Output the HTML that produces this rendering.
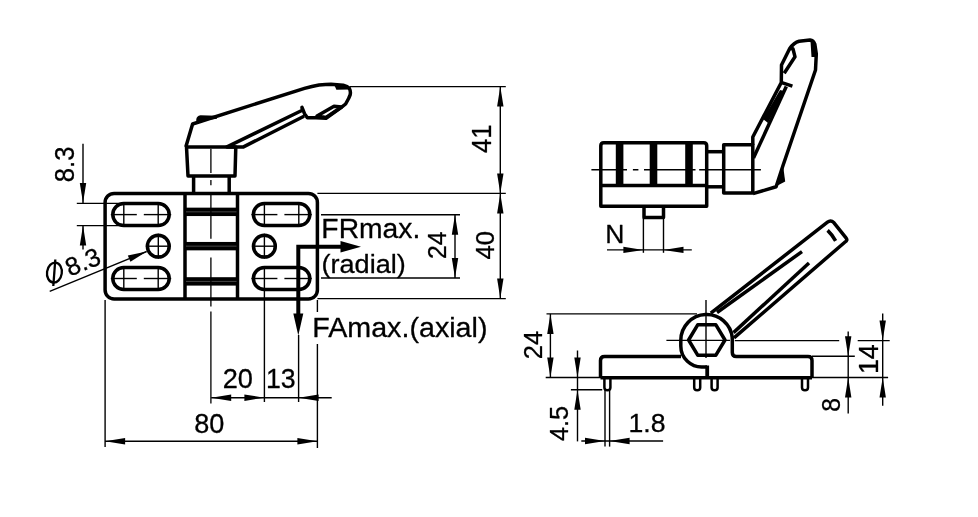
<!DOCTYPE html>
<html><head><meta charset="utf-8"><style>
html,body{margin:0;padding:0;background:#fff;}
svg{display:block;will-change:transform;}
</style></head><body>
<svg width="978" height="517" viewBox="0 0 978 517">
<rect width="978" height="517" fill="#fff"/>
<g fill="none" stroke="#000" stroke-linecap="butt" stroke-linejoin="round">
<path d="M114.1 193.4H308.4A9 9 0 0 1 317.4 202.4V290.0A9 9 0 0 1 308.4 299.0H114.1A9 9 0 0 1 105.1 290.0V202.4A9 9 0 0 1 114.1 193.4Z" stroke-width="3.5" />
<line x1="185" y1="193.4" x2="185" y2="299" stroke-width="3.5" />
<line x1="237.5" y1="193.4" x2="237.5" y2="299" stroke-width="3.5" />
<rect x="184.8" y="207.65" width="52.7" height="8.4" fill="#000" stroke="none"/>
<line x1="186" y1="211.85" x2="236.5" y2="211.85" stroke-width="0.7" stroke="#666"/>
<rect x="184.8" y="241.95000000000002" width="52.7" height="8.4" fill="#000" stroke="none"/>
<line x1="186" y1="246.15" x2="236.5" y2="246.15" stroke-width="0.7" stroke="#666"/>
<rect x="184.8" y="277.2" width="52.7" height="8.4" fill="#000" stroke="none"/>
<line x1="186" y1="281.4" x2="236.5" y2="281.4" stroke-width="0.7" stroke="#666"/>
<path d="M123.8 203.6H158.2A11 11 0 0 1 158.2 225.6H123.8A11 11 0 0 1 123.8 203.6Z" stroke-width="3.5" />
<line x1="123.8" y1="202.6" x2="123.8" y2="226.6" stroke-width="1.4" />
<line x1="158.2" y1="202.6" x2="158.2" y2="226.6" stroke-width="1.4" />
<line x1="110.8" y1="214.6" x2="136.8" y2="214.6" stroke-width="1.4" />
<line x1="143.8" y1="214.6" x2="171.2" y2="214.6" stroke-width="1.4" />
<path d="M264.4 203.6H298.8A11 11 0 0 1 298.8 225.6H264.4A11 11 0 0 1 264.4 203.6Z" stroke-width="3.5" />
<line x1="264.4" y1="202.6" x2="264.4" y2="226.6" stroke-width="1.4" />
<line x1="298.8" y1="202.6" x2="298.8" y2="226.6" stroke-width="1.4" />
<line x1="251.4" y1="214.6" x2="277.4" y2="214.6" stroke-width="1.4" />
<line x1="284.4" y1="214.6" x2="311.8" y2="214.6" stroke-width="1.4" />
<path d="M123.8 267.5H158.2A11 11 0 0 1 158.2 289.5H123.8A11 11 0 0 1 123.8 267.5Z" stroke-width="3.5" />
<line x1="123.8" y1="266.5" x2="123.8" y2="290.5" stroke-width="1.4" />
<line x1="158.2" y1="266.5" x2="158.2" y2="290.5" stroke-width="1.4" />
<line x1="110.8" y1="278.5" x2="136.8" y2="278.5" stroke-width="1.4" />
<line x1="143.8" y1="278.5" x2="171.2" y2="278.5" stroke-width="1.4" />
<path d="M264.4 267.5H298.8A11 11 0 0 1 298.8 289.5H264.4A11 11 0 0 1 264.4 267.5Z" stroke-width="3.5" />
<line x1="264.4" y1="266.5" x2="264.4" y2="290.5" stroke-width="1.4" />
<line x1="298.8" y1="266.5" x2="298.8" y2="290.5" stroke-width="1.4" />
<line x1="251.4" y1="278.5" x2="277.4" y2="278.5" stroke-width="1.4" />
<line x1="284.4" y1="278.5" x2="311.8" y2="278.5" stroke-width="1.4" />
<circle cx="158.3" cy="246.2" r="10.9" stroke-width="3.5"/>
<line x1="145.8" y1="246.2" x2="170.8" y2="246.2" stroke-width="1.4" />
<line x1="158.3" y1="233.7" x2="158.3" y2="258.7" stroke-width="1.4" />
<circle cx="264.4" cy="246.2" r="10.9" stroke-width="3.5"/>
<line x1="251.9" y1="246.2" x2="276.9" y2="246.2" stroke-width="1.4" />
<line x1="264.4" y1="233.7" x2="264.4" y2="258.7" stroke-width="1.4" />
<path d="M210.9 148.7V173M210.9 180V185.2M210.9 193V238.8M210.9 257.5V306.4M210.9 311.5V403.4" stroke-width="1.3" />
<path d="M186.5 146.9L188 176H235L235.8 146.9Z" stroke-width="3.5" />
<path d="M193.6 176V193.4M229.2 176V193.4" stroke-width="3.5" />
<path d="M185.8 146.9L192.6 124L304.5 88.3Q312 86 319 84.9Q326 84.2 331 84.2L343.2 85.2Q347.5 86.3 349.3 88.2Q351 91.5 350.1 95L348.6 98.5L345.6 104L341.3 107.4L326 118.3L316 117.8L307.4 117.8L304.5 113.7L302 107.4L302.3 110.3L227 146.9L243.5 146.9L304 116.3" stroke-width="3.5" />
<path d="M334 106.3L341.6 107L326 117.5L317 116Z" stroke-width="3.5" />
<path d="M196.2 120Q196.5 115.6 200.5 115.2L216.5 115.8L217 118.8L196.5 121.5Z" fill="#000" stroke="none"/>
<path d="M334.5 85.5L336.4 89.8L349.6 89.6L349.5 86.2Z" fill="#000" stroke="none"/>
<line x1="83" y1="143.7" x2="83" y2="203.1" stroke-width="1.4" />
<polygon points="83,203.1 79.8,183.1 86.2,183.1" fill="#000" stroke="none"/>
<line x1="83" y1="225.5" x2="83" y2="249.5" stroke-width="1.4" />
<polygon points="83,225.5 86.2,245.5 79.8,245.5" fill="#000" stroke="none"/>
<line x1="76.8" y1="203.4" x2="124" y2="203.4" stroke-width="1.4" />
<line x1="76.8" y1="225.6" x2="124" y2="225.6" stroke-width="1.4" />
<text fill="#000" font-family="Liberation Sans, sans-serif" x="0" y="0" font-size="26.71" transform="translate(73.93 182.19) rotate(-90) scale(0.9599 1)" stroke="#000" stroke-width="0.3">8.3</text>
<line x1="49.7" y1="291.4" x2="146.7" y2="251.5" stroke-width="1.4" />
<polygon points="146.7,251.5 130.42,261.87 127.84,255.58" fill="#000" stroke="none"/>
<text fill="#000" font-family="Liberation Sans, sans-serif" x="86.2" y="270" font-size="25.5" text-anchor="middle" transform="rotate(-22.6 86.2 270)" stroke="#000" stroke-width="0.3">8.3</text>
<ellipse cx="54.4" cy="272.6" rx="7.4" ry="10" stroke-width="2.3" transform="rotate(8 54.4 272.6)"/>
<line x1="55.3" y1="259.5" x2="53.3" y2="286" stroke-width="2.3" />
<line x1="350" y1="86.6" x2="505.8" y2="86.6" stroke-width="1.4" />
<line x1="317.4" y1="193.4" x2="505.8" y2="193.4" stroke-width="1.4" />
<line x1="317.4" y1="298.6" x2="505.8" y2="298.6" stroke-width="1.4" />
<line x1="500.3" y1="86.6" x2="500.3" y2="298.6" stroke-width="1.4" />
<polygon points="500.3,86.6 503.5,106.6 497.1,106.6" fill="#000" stroke="none"/>
<polygon points="500.3,193.4 497.1,173.4 503.5,173.4" fill="#000" stroke="none"/>
<polygon points="500.3,193.4 503.5,213.4 497.1,213.4" fill="#000" stroke="none"/>
<polygon points="500.3,298.6 497.1,278.6 503.5,278.6" fill="#000" stroke="none"/>
<text fill="#000" font-family="Liberation Sans, sans-serif" x="0" y="0" font-size="27.78" transform="translate(491.2 153.08) rotate(-90) scale(0.9276 1)" stroke="#000" stroke-width="0.3">41</text>
<text fill="#000" font-family="Liberation Sans, sans-serif" x="0" y="0" font-size="26.57" transform="translate(494.13 259.58) rotate(-90) scale(0.9677 1)" stroke="#000" stroke-width="0.3">40</text>
<line x1="321" y1="214.7" x2="460" y2="214.7" stroke-width="1.4" />
<line x1="321" y1="278" x2="460" y2="278" stroke-width="1.4" />
<line x1="455" y1="214.7" x2="455" y2="278" stroke-width="1.4" />
<polygon points="455,214.7 458.2,234.7 451.8,234.7" fill="#000" stroke="none"/>
<polygon points="455,278 451.8,258 458.2,258" fill="#000" stroke="none"/>
<text fill="#000" font-family="Liberation Sans, sans-serif" x="0" y="0" font-size="26.24" transform="translate(446.4 259.04) rotate(-90) scale(0.9487 1)" stroke="#000" stroke-width="0.3">24</text>
<line x1="105.1" y1="300" x2="105.1" y2="447" stroke-width="1.4" />
<line x1="264.4" y1="290" x2="264.4" y2="402" stroke-width="1.4" />
<line x1="298.6" y1="335" x2="298.6" y2="402" stroke-width="1.4" />
<line x1="317.4" y1="300" x2="317.4" y2="312" stroke-width="1.4" />
<line x1="317.4" y1="344" x2="317.4" y2="448" stroke-width="1.4" />
<line x1="211.2" y1="397.7" x2="331.7" y2="397.7" stroke-width="1.4" />
<polygon points="211.2,397.7 231.2,394.5 231.2,400.9" fill="#000" stroke="none"/>
<polygon points="264.4,397.7 244.4,400.9 244.4,394.5" fill="#000" stroke="none"/>
<polygon points="298.6,397.7 318.6,394.5 318.6,400.9" fill="#000" stroke="none"/>
<text fill="#000" font-family="Liberation Sans, sans-serif" x="0" y="0" font-size="27.00" transform="translate(222.74 387.83) scale(1.0071 1)" stroke="#000" stroke-width="0.3">20</text>
<text fill="#000" font-family="Liberation Sans, sans-serif" x="0" y="0" font-size="27.00" transform="translate(266 387.83) scale(0.9890 1)" stroke="#000" stroke-width="0.3">13</text>
<line x1="105.1" y1="441.2" x2="317.4" y2="441.2" stroke-width="1.4" />
<polygon points="105.1,441.2 125.1,438 125.1,444.4" fill="#000" stroke="none"/>
<polygon points="317.4,441.2 297.4,444.4 297.4,438" fill="#000" stroke="none"/>
<text fill="#000" font-family="Liberation Sans, sans-serif" x="0" y="0" font-size="27.00" transform="translate(194.25 432.93) scale(1.0034 1)" stroke="#000" stroke-width="0.3">80</text>
<path d="M298.3 314V246.7H342" stroke-width="4.0" stroke-linejoin="miter"/>
<polygon points="361,246.7 340.5,252.5 340.5,240.9" fill="#000" stroke="none"/>
<polygon points="298.3,335.4 293.3,313.4 303.3,313.4" fill="#000" stroke="none"/>
<text fill="#000" font-family="Liberation Sans, sans-serif" x="0" y="0" font-size="28.24" transform="translate(321.37 237.72) scale(1.0020 1)" stroke="#000" stroke-width="0.3">FRmax.</text>
<text fill="#000" font-family="Liberation Sans, sans-serif" x="0" y="0" font-size="26.60" transform="translate(321.51 272.88) scale(1.0182 1)" stroke="#000" stroke-width="0.3">(radial)</text>
<text fill="#000" font-family="Liberation Sans, sans-serif" x="0" y="0" font-size="27.88" transform="translate(312.23 337.21) scale(1.0289 1)" stroke="#000" stroke-width="0.3">FAmax.(axial)</text>
<path d="M603.8 142.8H703.7Q706.7 142.8 706.7 145.8V206.2H600.8V145.8Q600.8 142.8 603.8 142.8Z" stroke-width="3.5" />
<line x1="600.8" y1="185.5" x2="706.7" y2="185.5" stroke-width="3.5" />
<line x1="619.6" y1="143" x2="619.6" y2="185" stroke-width="7.6" />
<line x1="653.5" y1="143" x2="653.5" y2="185" stroke-width="7.6" />
<line x1="689" y1="143" x2="689" y2="185" stroke-width="7.6" />
<line x1="706.7" y1="151.7" x2="723.7" y2="151.7" stroke-width="3.5" />
<line x1="706.7" y1="186.8" x2="723.7" y2="186.8" stroke-width="3.5" />
<path d="M723.7 144.8H752.8V193H723.7Z" stroke-width="3.5" />
<path d="M591.4 169.7H627M632.9 169.7H638.4M644 169.7H695.5M699.2 169.7H760.9" stroke-width="1.4" />
<path d="M752.8 145V137L781.3 82.5L781.5 65L789.7 48.5Q794 42.5 799.1 41.2L810 40Q813.5 40.5 814.8 44L816.3 54L815.5 70L783 165.5L776.1 186.8L753 193.6" stroke-width="3.5" />
<path d="M781 82.4L792.4 86.2" stroke-width="3.5" />
<path d="M753.5 158L786.3 86.5" stroke-width="3.5" />
<path d="M789.7 48.5L793 48.8L795 56.8L784.2 73.3" stroke-width="3.5" />
<path d="M780 90L784 91L768 123L763 119Z" fill="#000" stroke="none"/>
<path d="M810.5 40.5L814.8 43.5L816.5 57L811.5 57Z" fill="#000" stroke="none"/>
<path d="M783 165L785.2 181.5L779.5 184.5L776.5 186Z" fill="#000" stroke="none"/>
<path d="M644 206.2V217.6H663.5V206.2" stroke-width="3.5" />
<line x1="643.4" y1="218" x2="643.4" y2="252.8" stroke-width="1.4" />
<line x1="663.5" y1="218" x2="663.5" y2="252.8" stroke-width="1.4" />
<line x1="607" y1="249.9" x2="691.8" y2="249.9" stroke-width="1.4" />
<polygon points="643.4,249.9 623.4,253.1 623.4,246.7" fill="#000" stroke="none"/>
<polygon points="663.5,249.9 683.5,246.7 683.5,253.1" fill="#000" stroke="none"/>
<text fill="#000" font-family="Liberation Sans, sans-serif" x="0" y="0" font-size="26.62" transform="translate(605.31 243) scale(0.9973 1)" stroke="#000" stroke-width="0.3">N</text>
<path d="M681 356.5H604.5Q600.5 356.5 600.5 360.5V377.8" stroke-width="3.5" />
<path d="M732.3 338.03A25.8 25.8 0 0 0 680.80 340.3V346A21 21 0 0 0 703 367H707" stroke-width="3.5" />
<line x1="707.2" y1="365.5" x2="707.2" y2="378" stroke-width="3.8" />
<path d="M732.3 338.03V352.5Q732.3 356.5 736.3 356.5H808Q812 356.5 812 360.5V377.8" stroke-width="3.5" />
<line x1="600.5" y1="377.8" x2="812" y2="377.8" stroke-width="3.5" />
<polygon points="725,340 715.9,355.21 697.7,355.21 688.6,340 697.7,324.79 715.9,324.79" stroke-width="3.5" fill="none"/>
<line x1="706" y1="300" x2="706" y2="358" stroke-width="1.4" />
<line x1="666.4" y1="340.4" x2="730" y2="340.4" stroke-width="1.4" />
<path d="M604.4 378V387.5Q604.4 390.3 607.4 390.3Q610.4 390.3 610.4 387.5V378" stroke-width="2.5" />
<path d="M694.2 378V387.5Q694.2 390.3 697.2 390.3Q700.2 390.3 700.2 387.5V378" stroke-width="2.5" />
<path d="M711.6 378V387.5Q711.6 390.3 714.6 390.3Q717.6 390.3 717.6 387.5V378" stroke-width="2.5" />
<path d="M802.0 378V387.5Q802.0 390.3 805 390.3Q808.0 390.3 808.0 387.5V378" stroke-width="2.5" />
<path d="M710.8 313.2L827.5 222.2Q830.8 219.6 834 222.8L845.8 237.6Q848.3 240.6 844.8 242.2L734 337.9" stroke-width="3.5" />
<path d="M717 312.5L802 251.6" stroke-width="3.5" />
<path d="M733.5 332.6L809 263" stroke-width="3.5" />
<path d="M827.6 230.4Q832 234.5 835.6 240.8" stroke-width="3.5" />
<line x1="546.5" y1="313.9" x2="697" y2="313.9" stroke-width="1.4" />
<line x1="545.7" y1="377.5" x2="601" y2="377.5" stroke-width="1.4" />
<line x1="550.4" y1="313.9" x2="550.4" y2="377.5" stroke-width="1.4" />
<polygon points="550.4,313.9 553.6,333.9 547.2,333.9" fill="#000" stroke="none"/>
<polygon points="550.4,377.5 547.2,357.5 553.6,357.5" fill="#000" stroke="none"/>
<text fill="#000" font-family="Liberation Sans, sans-serif" x="0" y="0" font-size="26.09" transform="translate(541.6 359.17) rotate(-90) scale(0.9762 1)" stroke="#000" stroke-width="0.3">24</text>
<line x1="577.5" y1="350.5" x2="577.5" y2="389.7" stroke-width="1.4" />
<polygon points="577.5,377.5 574.3,357.5 580.7,357.5" fill="#000" stroke="none"/>
<line x1="577.5" y1="389.7" x2="577.5" y2="441.4" stroke-width="1.4" />
<polygon points="577.5,389.7 580.7,409.7 574.3,409.7" fill="#000" stroke="none"/>
<line x1="570.9" y1="389.7" x2="602.2" y2="389.7" stroke-width="1.4" />
<text fill="#000" font-family="Liberation Sans, sans-serif" x="0" y="0" font-size="26.24" transform="translate(567.84 441.07) rotate(-90) scale(0.9637 1)" stroke="#000" stroke-width="0.3">4.5</text>
<line x1="605" y1="390" x2="605" y2="446.6" stroke-width="1.4" />
<line x1="609.6" y1="390" x2="609.6" y2="446.6" stroke-width="1.4" />
<line x1="581.3" y1="441" x2="663.1" y2="441" stroke-width="1.4" />
<polygon points="605,441 585,444.2 585,437.8" fill="#000" stroke="none"/>
<polygon points="609.6,441 629.6,437.8 629.6,444.2" fill="#000" stroke="none"/>
<text fill="#000" font-family="Liberation Sans, sans-serif" x="0" y="0" font-size="26.29" transform="translate(628.5 431.54) scale(1.0133 1)" stroke="#000" stroke-width="0.3">1.8</text>
<line x1="734.8" y1="340.6" x2="839.2" y2="340.6" stroke-width="1.4" />
<line x1="857.7" y1="340.6" x2="889.7" y2="340.6" stroke-width="1.4" />
<line x1="812" y1="356.3" x2="854.8" y2="356.3" stroke-width="1.4" />
<line x1="812" y1="377.5" x2="888.1" y2="377.5" stroke-width="1.4" />
<line x1="848.2" y1="331.4" x2="848.2" y2="413.5" stroke-width="1.4" />
<polygon points="848.2,356.3 845,336.3 851.4,336.3" fill="#000" stroke="none"/>
<polygon points="848.2,377.5 851.4,397.5 845,397.5" fill="#000" stroke="none"/>
<line x1="882.7" y1="313.4" x2="882.7" y2="405.8" stroke-width="1.4" />
<polygon points="882.7,340.6 879.5,320.6 885.9,320.6" fill="#000" stroke="none"/>
<polygon points="882.7,377.5 885.9,397.5 879.5,397.5" fill="#000" stroke="none"/>
<text fill="#000" font-family="Liberation Sans, sans-serif" x="0" y="0" font-size="27.05" transform="translate(877.6 374.12) rotate(-90) scale(0.9942 1)" stroke="#000" stroke-width="0.3">14</text>
<text fill="#000" font-family="Liberation Sans, sans-serif" x="0" y="0" font-size="26.29" transform="translate(840.24 411.85) rotate(-90) scale(0.9388 1)" stroke="#000" stroke-width="0.3">8</text>
</g>
</svg>
</body></html>
